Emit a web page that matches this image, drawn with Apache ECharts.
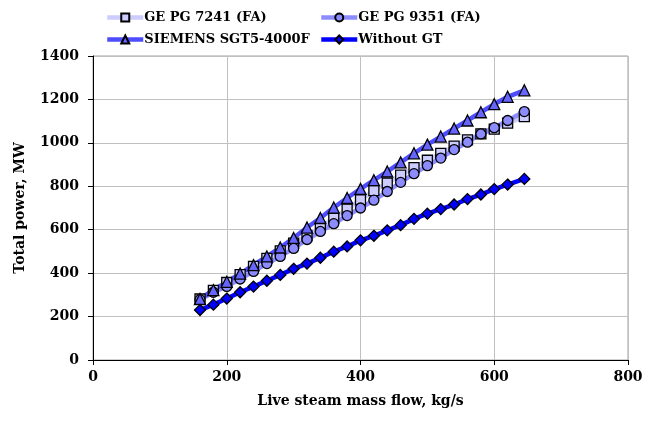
<!DOCTYPE html>
<html>
<head>
<meta charset="utf-8">
<script src="https://cdn.jsdelivr.net/npm/echarts@6/dist/echarts.min.js"></script>
<style>
  html, body { margin: 0; padding: 0; background: #fff; }
  #chart { width: 648px; height: 428px; }
</style>
</head>
<body>
<div id="chart"></div>
<script>
// live steam mass flow, kg/s
const flow = [160, 180, 200, 220, 240, 260, 280, 300, 320, 340, 360, 380, 400, 420, 440, 460, 480, 500, 520, 540, 560, 580, 600, 620, 645]
// total power, MW
const gePg7241 = [281, 321, 357, 393, 431, 468, 503, 538, 572, 612, 652, 695, 738, 780, 815, 851, 886, 920, 952, 985, 1014, 1041, 1063, 1091, 1121]
const gePg9351 = [278, 312, 339, 373, 408, 444, 477, 514, 555, 592, 628, 665, 700, 736, 776, 818, 858, 895, 930, 969, 1003, 1041, 1070, 1103, 1144]
const siemens = [281, 322, 360, 398, 437, 477, 518, 562, 610, 654, 702, 746, 788, 828, 868, 910, 952, 992, 1029, 1066, 1103, 1141, 1178, 1212, 1242]
const withoutGt = [230, 255, 283, 312, 338, 365, 392, 420, 444, 471, 499, 523, 551, 572, 597, 621, 650, 674, 695, 716, 741, 762, 787, 808, 834]

const seriesNames = ['GE PG 7241 (FA)', 'GE PG 9351 (FA)', 'SIEMENS SGT5-4000F', 'Without GT']
const xTicks = [0, 200, 400, 600, 800]
const yTicks = [0, 200, 400, 600, 800, 1000, 1200, 1400]

const FONT = '"DejaVu Serif", Georgia, serif'

const pairs = (ys) => flow.map((x, i) => [x, ys[i]])

function makeSeries(name, ys, lineColor, fill, symbol, size) {
  return {
    name: name,
    type: 'line',
    data: pairs(ys),
    symbol: symbol,
    symbolSize: size,
    showAllSymbol: true,
    lineStyle: { color: lineColor, width: 4.5 },
    itemStyle: { color: fill, borderColor: '#000', borderWidth: 1.3 },
    emphasis: { disabled: true },
  }
}

const legendItem = (name, left, top) => ({
  data: [name],
  left: left,
  top: top,
  itemWidth: 36,
  itemHeight: 10,
  itemGap: 2,
  lineStyle: { width: 4.5 },
  textStyle: { fontFamily: FONT, fontWeight: 'bold', fontSize: 13, color: '#000', padding: [0, 0, 0, -4] },
})

const chart = echarts.init(document.getElementById('chart'), null, { renderer: 'canvas' })

chart.setOption({
  animation: false,
  backgroundColor: '#fff',
  legend: [
    legendItem(seriesNames[0], 100, 6),
    legendItem(seriesNames[1], 314, 6),
    legendItem(seriesNames[2], 100, 28),
    legendItem(seriesNames[3], 314, 28),
  ],
  grid: {
    left: 93,
    right: 20,
    top: 56,
    bottom: 68,
    show: true,
    borderColor: '#a0a0a0',
    borderWidth: 1,
  },
  xAxis: {
    type: 'value',
    min: xTicks[0],
    max: xTicks[xTicks.length - 1],
    interval: 200,
    name: 'Live steam mass flow, kg/s',
    nameLocation: 'middle',
    nameGap: 34,
    nameTextStyle: { fontFamily: FONT, fontWeight: 'bold', fontSize: 14, color: '#000' },
    axisLine: { show: true, lineStyle: { color: '#000', width: 1 } },
    axisTick: { show: true, inside: false, length: 5, lineStyle: { color: '#000' } },
    axisLabel: { fontFamily: FONT, fontWeight: 'bold', fontSize: 14, color: '#000', margin: 10, formatter: (v) => String(v) },
    splitLine: { show: true, lineStyle: { color: '#c0c0c0', width: 1 } },
  },
  yAxis: {
    type: 'value',
    min: yTicks[0],
    max: yTicks[yTicks.length - 1],
    interval: 200,
    name: 'Total power, MW',
    nameLocation: 'middle',
    nameGap: 66,
    nameTextStyle: { fontFamily: FONT, fontWeight: 'bold', fontSize: 14, color: '#000' },
    axisLine: { show: true, lineStyle: { color: '#000', width: 1 } },
    axisTick: { show: true, inside: false, length: 5, lineStyle: { color: '#000' } },
    axisLabel: { fontFamily: FONT, fontWeight: 'bold', fontSize: 14, color: '#000', margin: 14, formatter: (v) => String(v) },
    splitLine: { show: true, lineStyle: { color: '#c0c0c0', width: 1 } },
  },
  series: [
    makeSeries(seriesNames[0], gePg7241, '#ccccff', '#ccccff', 'rect', 10),
    makeSeries(seriesNames[1], gePg9351, '#8c8cff', '#8c8cff', 'circle', 10),
    makeSeries(seriesNames[2], siemens, '#4d4dff', '#6666ff', 'triangle', 11),
    makeSeries(seriesNames[3], withoutGt, '#0000ff', '#0000ff', 'diamond', 11),
  ],
})
</script>
</body>
</html>
